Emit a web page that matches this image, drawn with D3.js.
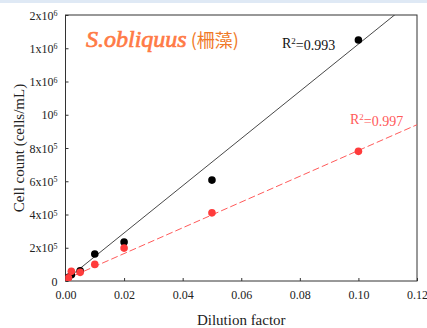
<!DOCTYPE html>
<html>
<head>
<meta charset="utf-8">
<script src="https://cdn.jsdelivr.net/npm/d3@7"></script>
<style>
  body { margin: 0; background: #fff; }
  svg text { font-family: 'Liberation Serif', 'Times New Roman', 'DejaVu Serif', serif; }
</style>
</head>
<body>
<script>
// dilution factor vs cell count, two series with linear fits
var blackX = [0.001, 0.002, 0.005, 0.01, 0.02, 0.05, 0.1];
var blackY = [22000, 38000, 62000, 162000, 235000, 607000, 1450000];
var redX = [0.0005, 0.001, 0.002, 0.005, 0.01, 0.02, 0.05, 0.1];
var redY = [10000, 20000, 58000, 52000, 100000, 198000, 410000, 780000];
var blackFit = [14200000, 5000];   // slope, intercept
var redFit = [7750000, 10000];
var xTicks = [0, 0.02, 0.04, 0.06, 0.08, 0.10, 0.12];
var yTicks = [0, 200000, 400000, 600000, 800000, 1000000, 1200000, 1400000, 1600000];
var yTickLabels = [["0", ""], ["2x10", "5"], ["4x10", "5"], ["6x10", "5"], ["8x10", "5"],
                   ["10", "6"], ["1x10", "6"], ["1x10", "6"], ["2x10", "6"]];

var width = 427, height = 328;
var margin = {left: 65.5, right: 10, top: 15, bottom: 47};
var serif = "'Liberation Serif', 'Times New Roman', 'DejaVu Serif', serif";

var svg = d3.select("body").append("svg")
    .attr("width", width)
    .attr("height", height);

// thin light blue strip at top
svg.append("rect").attr("x", 0).attr("y", 0).attr("width", width).attr("height", 3)
    .style("fill", "#dfe9f5");

var x = d3.scaleLinear().domain([0, 0.12]).range([margin.left, width - margin.right]);
var y = d3.scaleLinear().domain([0, 1600000]).range([height - margin.bottom, margin.top]);

svg.append("clipPath").attr("id", "clip")
    .append("rect")
    .attr("x", x(0)).attr("y", y(1600000))
    .attr("width", x(0.12) - x(0)).attr("height", y(0) - y(1600000));

// frame
svg.append("rect")
    .attr("x", x(0)).attr("y", y(1600000))
    .attr("width", x(0.12) - x(0)).attr("height", y(0) - y(1600000))
    .style("fill", "none").style("stroke", "#333").style("stroke-width", 1);

var xAxis = svg.append("g")
    .attr("transform", "translate(0," + y(0) + ")")
    .call(d3.axisBottom(x).tickValues(xTicks).tickSizeInner(-3).tickSizeOuter(0)
        .tickPadding(9).tickFormat(d3.format(".2f")));
xAxis.select(".domain").remove();
xAxis.selectAll("line").style("stroke", "#333");
xAxis.selectAll("text").style("font-size", "12px").style("fill", "#222")
    .style("font-family", serif);

var yAxis = svg.append("g")
    .attr("transform", "translate(" + x(0) + ",0)")
    .call(d3.axisLeft(y).tickValues(yTicks).tickSizeInner(-3).tickSizeOuter(0)
        .tickPadding(8).tickFormat(""));
yAxis.select(".domain").remove();
yAxis.selectAll("line").style("stroke", "#333");
var yt = yAxis.selectAll(".tick text")
    .style("font-size", "12px").style("fill", "#222")
    .style("font-family", serif)
    .attr("dy", "0.35em");
yt.each(function(d, i) {
    var t = d3.select(this), lab = yTickLabels[i];
    t.append("tspan").text(lab[0]);
    if (lab[1]) {
        t.append("tspan").text(lab[1]).attr("dy", "-0.45em").style("font-size", "8px");
    }
});

// axis titles
svg.append("text")
    .attr("x", (x(0) + x(0.12)) / 2).attr("y", 325)
    .attr("text-anchor", "middle")
    .style("font-family", serif)
    .style("font-size", "15px").style("fill", "#222")
    .text("Dilution factor");
svg.append("text")
    .attr("transform", "translate(24," + (y(0) + y(1600000)) / 2 + ") rotate(-90)")
    .attr("text-anchor", "middle")
    .style("font-family", serif)
    .style("font-size", "15px").style("fill", "#222")
    .text("Cell count (cells/mL)");

// fit lines
var plot = svg.append("g").attr("clip-path", "url(#clip)");
plot.append("line")
    .attr("x1", x(0)).attr("y1", y(blackFit[1]))
    .attr("x2", x(0.12)).attr("y2", y(blackFit[0] * 0.12 + blackFit[1]))
    .style("stroke", "#333").style("stroke-width", 0.9);
plot.append("line")
    .attr("x1", x(0)).attr("y1", y(redFit[1]))
    .attr("x2", x(0.12)).attr("y2", y(redFit[0] * 0.12 + redFit[1]))
    .style("stroke", "#ff5a5a").style("stroke-width", 1)
    .style("stroke-dasharray", "7,3");

// points
plot.selectAll(".bdot").data(blackX).enter().append("circle")
    .attr("class", "bdot")
    .attr("cx", function(d) { return x(d); })
    .attr("cy", function(d, i) { return y(blackY[i]); })
    .attr("r", 3.8).style("fill", "#000");
plot.selectAll(".rdot").data(redX).enter().append("circle")
    .attr("class", "rdot")
    .attr("cx", function(d) { return x(d); })
    .attr("cy", function(d, i) { return y(redY[i]); })
    .attr("r", 3.8).style("fill", "#ff3b3b");

// title
var title = svg.append("text").attr("x", 86).attr("y", 47).style("font-family", serif);
title.append("tspan").text("S.obliquus")
    .style("font-family", "'Liberation Serif', serif")
    .style("font-style", "italic").style("font-weight", "normal")
    .style("stroke", "#ff7a45").style("stroke-width", 0.7)
    .style("font-size", "24px").style("fill", "#ff7a45");
title.append("tspan").text(" (柵藻)")
    .style("font-family", "'Noto Sans CJK TC', sans-serif")
    .style("font-size", "18px").style("fill", "#f07a28");

// R^2 labels
var r1 = svg.append("text").attr("x", 282).attr("y", 48)
    .style("font-family", serif)
    .style("font-size", "14px").style("fill", "#111");
r1.append("tspan").text("R");
r1.append("tspan").text("2").attr("dy", "-0.45em").style("font-size", "9px");
r1.append("tspan").text("=0.993").attr("dy", "0.45em");

var r2 = svg.append("text").attr("x", 350).attr("y", 124)
    .style("font-family", serif)
    .style("font-size", "14px").style("fill", "#ff5a5a");
r2.append("tspan").text("R");
r2.append("tspan").text("2").attr("dy", "-0.45em").style("font-size", "9px");
r2.append("tspan").text("=0.997").attr("dy", "0.45em");
</script>
</body>
</html>
